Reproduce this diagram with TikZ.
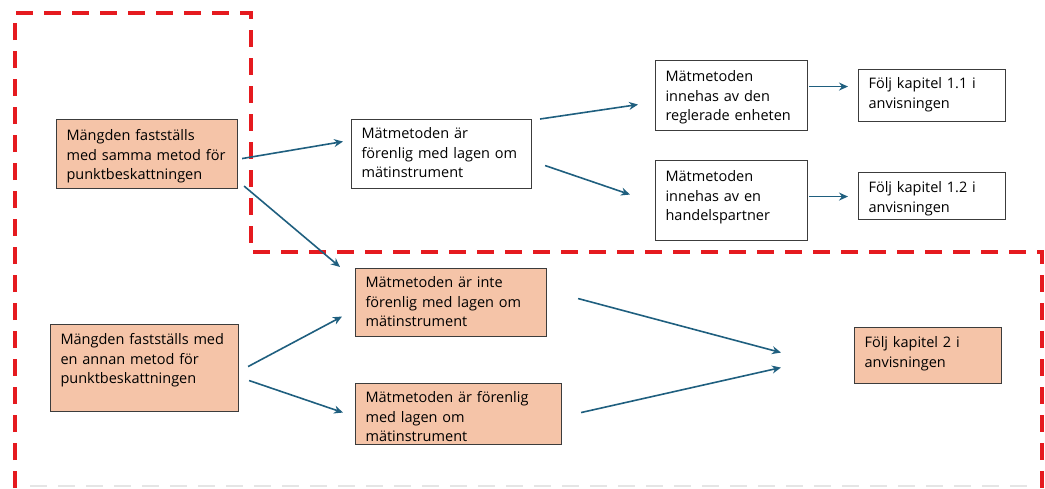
\documentclass[tikz,border=0pt]{standalone}
\usepackage{fontspec}
\setmainfont{Open Sans}
\usepackage{tikz}
\usetikzlibrary{arrows.meta}
\definecolor{peach}{HTML}{F5C4A8}
\definecolor{flowblue}{HTML}{1F5F7F}
\definecolor{zonered}{HTML}{E51A1F}
\definecolor{edgegray}{HTML}{3C3C3C}
\tikzstyle{basebox} = [draw=edgegray, line width=1.1pt, rectangle, anchor=north west, align=left, inner xsep=10pt, inner ysep=0pt, font=\fontsize{14.5pt}{19.5pt}\selectfont]
\tikzstyle{whitebox} = [basebox, fill=white]
\tikzstyle{peachbox} = [basebox, fill=peach]
\tikzstyle{flow} = [draw=flowblue, line width=1.6pt, -{Stealth[length=9pt,width=8pt]}]
\tikzstyle{zone} = [draw=zonered, line width=4pt, dash pattern=on 17pt off 11pt]

\begin{document}
\begin{tikzpicture}[x=1pt, y=-1pt]
        \useasboundingbox (0,0) rectangle (1045,488);
        % area of the guidance chapter 2
        \draw[zone] (15,488) -- (15,13) -- (251,13) -- (251,252) -- (1042,252) -- (1042,488);
        \draw[gray!20, line width=2pt, dash pattern=on 17pt off 11pt] (30,486) -- (1030,486);

        \node [peachbox, text width=161pt, text height=21pt, text depth=48pt] (amount1) at (56,119) {Mängden fastställs\\med samma metod för\\punktbeskattningen};
        \node [peachbox, text width=168pt, text height=20pt, text depth=67pt] (amount2) at (50,324) {Mängden fastställs med\\en annan metod för\\punktbeskattningen};

        \node [whitebox, text width=160pt, text height=19pt, text depth=50pt] (method1) at (351,119) {Mätmetoden är\\förenlig med lagen om\\mätinstrument};
        \node [peachbox, text width=171pt, text height=19pt, text depth=49pt] (method2) at (355,268) {Mätmetoden är inte\\förenlig med lagen om\\mätinstrument};
        \node [peachbox, text width=186pt, text height=19pt, text depth=42pt] (method3) at (355,383) {Mätmetoden är förenlig\\med lagen om\\mätinstrument};

        \node [whitebox, text width=132pt, text height=21pt, text depth=49pt] (owner1) at (655,60) {Mätmetoden\\innehas av den\\reglerade enheten};
        \node [whitebox, text width=132pt, text height=21pt, text depth=59pt] (owner2) at (655,160) {Mätmetoden\\innehas av en\\handelspartner};

        \node [whitebox, text width=127pt, text height=19pt, text depth=33pt] (chap11) at (858,69) {Följ kapitel 1.1 i\\anvisningen};
        \node [whitebox, text width=127pt, text height=20pt, text depth=27pt] (chap12) at (858,172) {Följ kapitel 1.2 i\\anvisningen};
        \node [peachbox, text width=127pt, text height=20pt, text depth=36pt] (chap2) at (854,327) {Följ kapitel 2 i\\anvisningen};

        \draw[flow] ([shift={(4,4.5)}]amount1.east) -- ([shift={(-8,-12.5)}]method1.west);
        \draw[flow] ([shift={(6,-3)}]amount1.south east) -- ([shift={(-15,-1)}]method2.north west);
        \draw[flow] ([shift={(8,0)}]method1.north east) -- ([shift={(-17,9)}]owner1.west);
        \draw[flow] ([shift={(13,11.5)}]method1.east) -- ([shift={(-25,-6)}]owner2.west);
        \draw[flow] ([shift={(1,-9)}]owner1.east) -- ([shift={(-10,-9)}]chap11.west);
        \draw[flow] ([shift={(1,-4)}]owner2.east) -- ([shift={(-10,0.5)}]chap12.west);
        \draw[flow] ([shift={(9,-1.5)}]amount2.east) -- ([shift={(-13,14)}]method2.west);
        \draw[flow] ([shift={(10,12.5)}]amount2.east) -- ([shift={(-12,-1.5)}]method3.west);
        \draw[flow] ([shift={(31,-4)}]method2.east) -- ([shift={(-73,-3)}]chap2.west);
        \draw[flow] ([shift={(19,-1.5)}]method3.east) -- ([shift={(-73,12)}]chap2.west);
\end{tikzpicture}
\end{document}
